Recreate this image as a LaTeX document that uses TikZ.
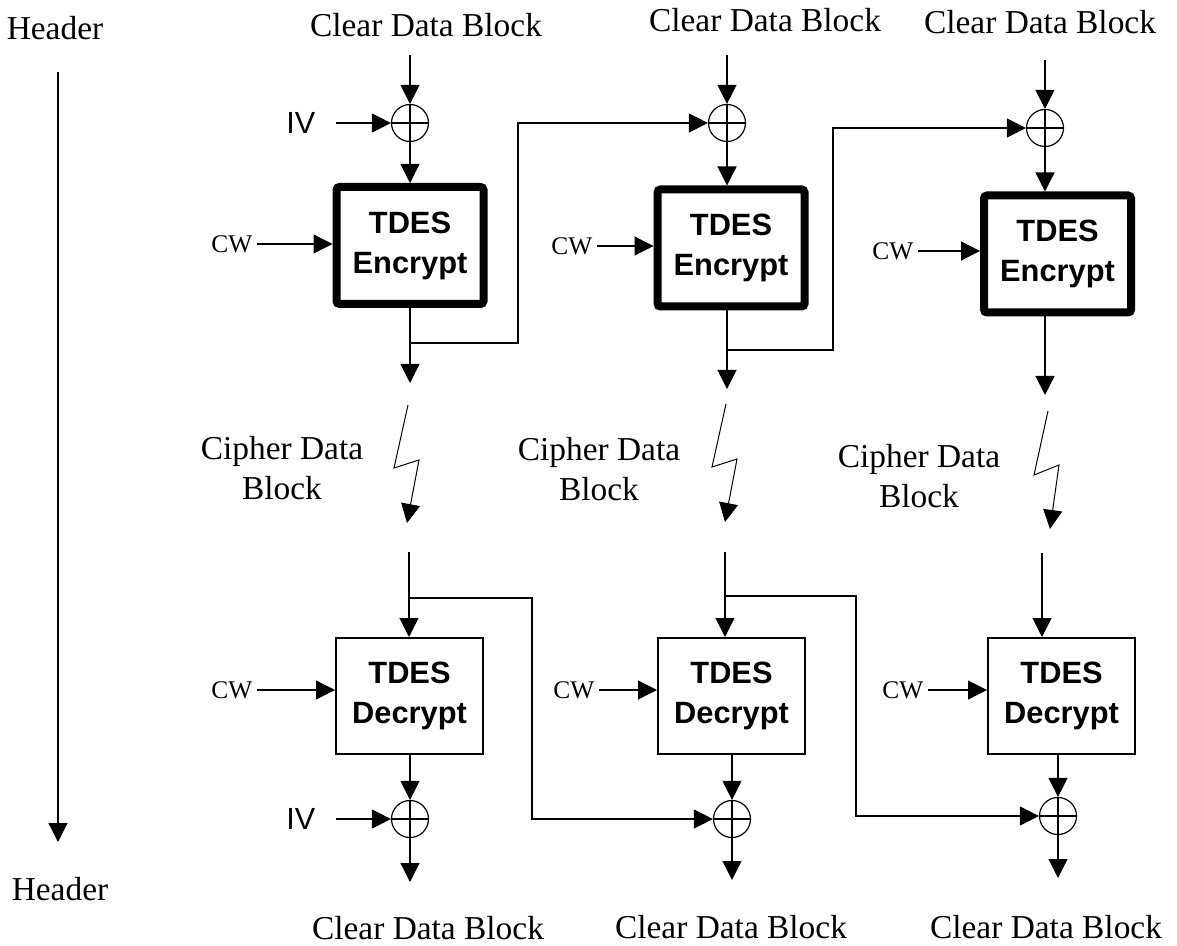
\documentclass[tikz,border=0pt]{standalone}
\usepackage{fontspec}
\setmainfont{Liberation Serif}
\setsansfont{Liberation Sans}
\usetikzlibrary{positioning, arrows.meta}
\tikzset{
x=0.5pt, y=-0.5pt, % one unit is one pixel of the drawing, y runs downwards
>={Triangle[length=9.5pt, width=9.5pt]}, % filled arrow heads
every picture/.style={line width=0.6pt}, % thin connectors
txt/.style={font=\fontsize{16.7}{20}\selectfont, align=center, inner sep=0pt}, % serif captions
cwtxt/.style={font=\fontsize{12.7}{15}\selectfont, inner sep=0pt}, % key inputs
ivtxt/.style={font=\sffamily\fontsize{15.3}{18}\selectfont, inner sep=0pt}, % initial vector
encbox/.style={draw, line width=4pt, rounded corners=1.5pt, minimum width=73.5pt, minimum height=58.5pt, align=center, font=\sffamily\bfseries\fontsize{15.4}{20}\selectfont},
decbox/.style={draw, line width=1pt, minimum width=73.5pt, minimum height=58pt, align=center, font=\sffamily\bfseries\fontsize{15.4}{20}\selectfont},
xorgate/.style={circle, draw, line width=0.6pt, minimum size=18.5pt, inner sep=0pt,
  path picture={\draw[line width=0.6pt] (path picture bounding box.north) -- (path picture bounding box.south)
  (path picture bounding box.west) -- (path picture bounding box.east);}}, % the xor symbol
zap/.style={->, line width=0.5pt}, % the transmission flash
}

\begin{document}
\begin{tikzpicture}
    \useasboundingbox (0,0) rectangle (1177,946);

    % header
    \node[txt] (h1) at (55,28) {Header};
    \node[txt] (h2) at (60,889) {Header};
    \coordinate (hs) at (58,72);
    \coordinate (he) at (58,842);
    \draw[->] (hs) -- (he);

    % encryption
    \node[txt] (ct1) at (426,25) {Clear Data Block};
    \node[txt] (ct2) at (765,20) {Clear Data Block};
    \node[txt] (ct3) at (1040,22) {Clear Data Block};
    \coordinate (ci1) at (410,55);
    \coordinate (ci2) at (727,55);
    \coordinate (ci3) at (1045,60);

    \node[xorgate] (xe1) at (410,123) {};
    \node[xorgate] (xe2) at (727,123) {};
    \node[xorgate] (xe3) at (1045,128) {};
    \node[ivtxt, anchor=east] (iv1) at (316,123) {IV};

    \node[encbox] (enc1) at (410,245.5) {TDES\\Encrypt};
    \node[encbox] (enc2) at (731,248) {TDES\\Encrypt};
    \node[encbox] (enc3) at (1057.5,254) {TDES\\Encrypt};
    \node[cwtxt, anchor=east] (cw1) at (253,244) {CW};
    \node[cwtxt, anchor=east] (cw2) at (593,246) {CW};
    \node[cwtxt, anchor=east] (cw3) at (914,251) {CW};

    \coordinate (co1) at (410,383);
    \coordinate (co2) at (727,389);
    \coordinate (co3) at (1045,395);
    \coordinate (b1) at (410,343);
    \coordinate (b2) at (727,350);

    \draw[->] (ci1) -- (xe1);
    \draw[->] (ci2) -- (xe2);
    \draw[->] (ci3) -- (xe3);
    \draw[->, shorten <=10pt] (iv1) -- (xe1);
    \draw[->] (xe1) -- (enc1);
    \draw[->] (xe2) -- (xe2 |- enc2.north);
    \draw[->] (xe3) -- (xe3 |- enc3.north);
    \draw[->, shorten <=2pt] (cw1) -- (cw1 -| enc1.west);
    \draw[->, shorten <=2pt] (cw2) -- (cw2 -| enc2.west);
    \draw[->, shorten <=2pt] (cw3) -- (cw3 -| enc3.west);
    \draw[->] (enc1) -- (co1);
    \draw[->] (co2 |- enc2.south) -- (co2);
    \draw[->] (co3 |- enc3.south) -- (co3);
    \draw[->] (b1) -- ++(108,0) |- (xe2);
    \draw[->] (b2) -- ++(106,0) |- (xe3);

    % transmission
    \node[txt] (cd1) at (282,468) {Cipher Data\\Block};
    \node[txt] (cd2) at (599,469) {Cipher Data\\Block};
    \node[txt] (cd3) at (919,476) {Cipher Data\\Block};
    \coordinate (z1) at (408,405);
    \coordinate (z2) at (726,404);
    \coordinate (z3) at (1048,411);
    \draw[zap] (z1) -- ++(-14,63) -- ++(25,-8) -- ++(-12,63);
    \draw[zap] (z2) -- ++(-14,63) -- ++(25,-8) -- ++(-12,63);
    \draw[zap] (z3) -- ++(-14,64) -- ++(25,-10) -- ++(-9,64);

    % decryption
    \coordinate (ki1) at (409,552);
    \coordinate (ki2) at (725,552);
    \coordinate (ki3) at (1042,553);
    \coordinate (kb1) at (409,598);
    \coordinate (kb2) at (725,596);

    \node[decbox] (dec1) at (409.5,696) {TDES\\Decrypt};
    \node[decbox] (dec2) at (731.5,696) {TDES\\Decrypt};
    \node[decbox] (dec3) at (1061.5,696) {TDES\\Decrypt};
    \node[cwtxt, anchor=east] (cwd1) at (253,690) {CW};
    \node[cwtxt, anchor=east] (cwd2) at (595,690) {CW};
    \node[cwtxt, anchor=east] (cwd3) at (924,690) {CW};

    \node[xorgate] (xd1) at (410,819) {};
    \node[xorgate] (xd2) at (732,819) {};
    \node[xorgate] (xd3) at (1058,816) {};
    \node[ivtxt, anchor=east] (iv2) at (316,819) {IV};

    \coordinate (do1) at (410,882);
    \coordinate (do2) at (732,880);
    \coordinate (do3) at (1058,878);
    \node[txt] (cb1) at (428,928) {Clear Data Block};
    \node[txt] (cb2) at (731,927) {Clear Data Block};
    \node[txt] (cb3) at (1046,927) {Clear Data Block};

    \draw[->] (ki1) -- (ki1 |- dec1.north);
    \draw[->] (ki2) -- (ki2 |- dec2.north);
    \draw[->] (ki3) -- (ki3 |- dec3.north);
    \draw[->] (kb1) -- ++(123,0) |- (xd2);
    \draw[->] (kb2) -- ++(131,0) |- (xd3);
    \draw[->, shorten <=2pt] (cwd1) -- (cwd1 -| dec1.west);
    \draw[->, shorten <=2pt] (cwd2) -- (cwd2 -| dec2.west);
    \draw[->, shorten <=2pt] (cwd3) -- (cwd3 -| dec3.west);
    \draw[->] (xd1 |- dec1.south) -- (xd1);
    \draw[->] (xd2 |- dec2.south) -- (xd2);
    \draw[->] (xd3 |- dec3.south) -- (xd3);
    \draw[->, shorten <=10pt] (iv2) -- (xd1);
    \draw[->] (xd1) -- (do1);
    \draw[->] (xd2) -- (do2);
    \draw[->] (xd3) -- (do3);
\end{tikzpicture}
\end{document}
